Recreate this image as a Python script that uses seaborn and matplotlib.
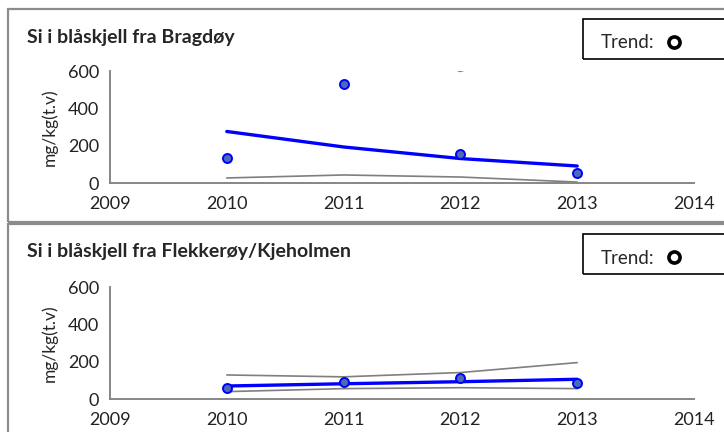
import matplotlib
matplotlib.use("Agg")
import matplotlib.pyplot as plt
import numpy as np
import pandas as pd
import seaborn as sns
from matplotlib.patches import Rectangle
from matplotlib.lines import Line2D

sns.set_style("white")
plt.rcParams["font.family"] = ["Lato", "DejaVu Sans"]

# ---------- data ----------
years = [2010, 2011, 2012, 2013]

titles = ["Si i blåskjell fra Bragdøy", "Si i blåskjell fra Flekkerøy/Kjeholmen"]

# Bragdøy
brag_obs = [134, 530, 155, 55]
brag_trend = [276, 193, 131, 91]
brag_lower = [27, 43, 32, 5]
brag_upper = [1500, 800, 598, 800]   # mostly above the 600 axis max

# Flekkerøy/Kjeholmen
flek_obs = [62, 94, 115, 89]
flek_trend = [71, 83, 94, 107]
flek_lower = [41, 57, 62, 57]
flek_upper = [130, 120, 143, 196]

panels = [
    (titles[0], brag_obs, brag_trend, brag_lower, brag_upper),
    (titles[1], flek_obs, flek_trend, flek_lower, flek_upper),
]

W, H = 724, 432
fig = plt.figure(figsize=(W / 100, H / 100), dpi=100)

def fx(px):
    return px / W

def fy(py):
    return 1 - py / H

GRAY = "#868686"
BLUE = "#0000FF"

# pixel layout for each panel: (panel top, panel bottom, axes top(600), axes bottom(0))
layout = [(9, 222, 71, 183), (224, 445, 287, 399.3)]

for (title, obs, trend, lower, upper), (ptop, pbot, atop, abot) in zip(panels, layout):
    # outer panel frame
    fig.add_artist(Rectangle((fx(8), fy(pbot)), fx(730) - fx(8), fy(ptop) - fy(pbot),
                             transform=fig.transFigure, fill=False,
                             edgecolor="#8c8c8c", linewidth=1.6, clip_on=False))
    # trend box
    fig.add_artist(Rectangle((fx(583), fy(ptop + 50)), fx(730) - fx(583), fy(ptop + 10) - fy(ptop + 50),
                             transform=fig.transFigure, fill=False,
                             edgecolor="black", linewidth=1.2, clip_on=False))
    fig.text(fx(601), fy(ptop + 34), "Trend:", ha="left", va="center", fontsize=13.5)
    fig.add_artist(Line2D([fx(673.5)], [fy(ptop + 33)], transform=fig.transFigure,
                          marker="o", markersize=8, markerfacecolor="white",
                          markeredgecolor="black", markeredgewidth=2.6, linestyle="none"))
    # title
    fig.text(fx(27), fy(ptop + 28), title, ha="left", va="center",
             fontsize=14, fontweight="bold")

    ax = fig.add_axes([fx(110), fy(abot), fx(694) - fx(110), fy(atop) - fy(abot)])
    df = pd.DataFrame({"year": years, "obs": obs, "trend": trend,
                       "lower": lower, "upper": upper})
    sns.lineplot(data=df, x="year", y="lower", ax=ax, color="#7f7f7f", linewidth=1.2)
    sns.lineplot(data=df, x="year", y="upper", ax=ax, color="#7f7f7f", linewidth=1.2)
    sns.lineplot(data=df, x="year", y="trend", ax=ax, color=BLUE, linewidth=2.4)
    sns.scatterplot(data=df, x="year", y="obs", ax=ax, color="#4a6cb8",
                    edgecolor=BLUE, linewidth=1.4, s=42, zorder=5, clip_on=False)

    ax.set_xlim(2009, 2014)
    ax.set_ylim(0, 600)
    ax.set_xticks(range(2009, 2015))
    ax.set_yticks([0, 200, 400, 600])
    ax.set_xlabel("")
    ax.set_ylabel("mg/kg(t.v)", fontsize=12.5, labelpad=7)
    for s in ["top", "right"]:
        ax.spines[s].set_visible(False)
    for s in ["left", "bottom"]:
        ax.spines[s].set_color(GRAY)
        ax.spines[s].set_linewidth(1.4)
    ax.tick_params(axis="x", direction="inout", length=8, width=1.2, color=GRAY,
                   labelsize=13, pad=5, labelcolor="#222222")
    ax.tick_params(axis="y", direction="out", length=4, width=1.2, color=GRAY,
                   labelsize=13, pad=4, labelcolor="#222222")
    ax.patch.set_alpha(0)

fig.savefig("out.png", dpi=100)
